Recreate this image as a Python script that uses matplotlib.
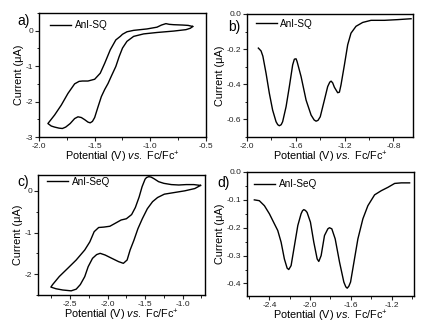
import matplotlib
matplotlib.use("Agg")
import matplotlib.pyplot as plt
from matplotlib.ticker import MultipleLocator, FuncFormatter

plt.rcParams['font.family'] = ['Liberation Sans', 'DejaVu Sans']
plt.rcParams['mathtext.fontset'] = 'custom'
plt.rcParams['mathtext.rm'] = 'Liberation Sans'
plt.rcParams['mathtext.it'] = 'Liberation Sans:italic'

# Panel a: CV of AnI-SQ (upper branch then lower branch, closed loop)
a_x = [-0.62, -0.66, -0.71, -0.79, -0.83, -0.86, -0.90, -0.94, -1.03, -1.15, -1.21, -1.25, -1.27,
       -1.31, -1.36, -1.41, -1.45, -1.50, -1.56, -1.61, -1.64, -1.68, -1.74, -1.80, -1.86, -1.92,
       -1.89, -1.86, -1.82, -1.79, -1.76, -1.72, -1.68, -1.65, -1.62, -1.59, -1.56, -1.54,
       -1.52, -1.50, -1.47, -1.44, -1.41, -1.38, -1.35, -1.31, -1.28, -1.25, -1.21, -1.15,
       -1.06, -0.94, -0.79, -0.68, -0.64, -0.62]
a_y = [0.12, 0.15, 0.16, 0.17, 0.18, 0.20, 0.16, 0.10, 0.05, 0.01, -0.03, -0.10, -0.16,
       -0.26, -0.54, -0.92, -1.20, -1.37, -1.42, -1.42, -1.43, -1.50, -1.77, -2.10, -2.38, -2.62,
       -2.69, -2.72, -2.75, -2.76, -2.72, -2.62, -2.48, -2.43, -2.45, -2.51, -2.58, -2.60,
       -2.56, -2.45, -2.15, -1.86, -1.66, -1.49, -1.28, -1.01, -0.73, -0.49, -0.30, -0.16,
       -0.09, -0.05, -0.01, 0.03, 0.07, 0.12]

# Panel b: DPV of AnI-SQ
b_x = [-1.907, -1.885, -1.87, -1.844, -1.817, -1.79, -1.762, -1.748, -1.735, -1.72, -1.708,
       -1.68, -1.653, -1.626, -1.612, -1.598, -1.59, -1.557, -1.516, -1.475, -1.45, -1.434,
       -1.418, -1.40, -1.366, -1.339, -1.322, -1.311, -1.298, -1.284, -1.257, -1.243, -1.23,
       -1.202, -1.175, -1.148, -1.107, -1.052, -0.984, -0.874, -0.765, -0.656]
b_y = [-0.194, -0.21, -0.24, -0.337, -0.451, -0.547, -0.613, -0.630, -0.636, -0.630, -0.613,
       -0.528, -0.413, -0.29, -0.257, -0.255, -0.27, -0.356, -0.49, -0.575, -0.603, -0.61,
       -0.605, -0.585, -0.49, -0.413, -0.388, -0.382, -0.392, -0.417, -0.448, -0.445, -0.404,
       -0.29, -0.175, -0.109, -0.07, -0.048, -0.036, -0.036, -0.032, -0.027]

# Panel c: CV of AnI-SeQ
c_x = [-0.76, -0.85, -0.95, -1.05, -1.15, -1.25, -1.32, -1.38, -1.42, -1.45, -1.48, -1.50,
       -1.54, -1.58, -1.63, -1.68, -1.75, -1.82, -1.90, -1.97, -2.05, -2.12, -2.18, -2.238,
       -2.306, -2.42, -2.532, -2.645, -2.735, -2.758,
       -2.69, -2.60, -2.487, -2.42, -2.365, -2.306, -2.26, -2.202, -2.147, -2.10, -2.034,
       -1.944, -1.853, -1.79, -1.74, -1.70, -1.65, -1.596, -1.537, -1.47, -1.40, -1.333,
       -1.243, -1.107, -0.97, -0.836, -0.76]
c_y = [0.13, 0.15, 0.15, 0.14, 0.15, 0.18, 0.22, 0.29, 0.33, 0.34, 0.32, 0.28,
       0.10, -0.15, -0.40, -0.57, -0.67, -0.70, -0.78, -0.85, -0.87, -0.88, -0.98, -1.225,
       -1.42, -1.66, -1.858, -2.055, -2.25, -2.31,
       -2.35, -2.38, -2.40, -2.36, -2.25, -2.06, -1.82, -1.62, -1.53, -1.50, -1.54,
       -1.62, -1.70, -1.74, -1.66, -1.42, -1.19, -0.91, -0.67, -0.43, -0.26, -0.16,
       -0.08, -0.04, 0.0, 0.055, 0.13]

# Panel d: DPV of AnI-SeQ
d_x = [-2.548, -2.499, -2.449, -2.40, -2.351, -2.318, -2.285, -2.253, -2.226, -2.21, -2.187,
       -2.154, -2.121, -2.089, -2.075, -2.062, -2.046, -2.03, -1.997, -1.964, -1.931, -1.915,
       -1.892, -1.859, -1.826, -1.81, -1.787, -1.754, -1.711, -1.669, -1.650, -1.636, -1.620,
       -1.603, -1.57, -1.531, -1.482, -1.433, -1.367, -1.301, -1.236, -1.17, -1.105, -1.023]
d_y = [-0.10, -0.103, -0.121, -0.15, -0.186, -0.21, -0.252, -0.312, -0.345, -0.35, -0.336,
       -0.264, -0.192, -0.15, -0.139, -0.135, -0.138, -0.145, -0.18, -0.252, -0.312, -0.321,
       -0.30, -0.228, -0.204, -0.20, -0.204, -0.24, -0.324, -0.395, -0.412, -0.417, -0.410,
       -0.395, -0.324, -0.24, -0.168, -0.121, -0.082, -0.067, -0.055, -0.041, -0.039, -0.039]

W, H = 422, 324
fig = plt.figure(figsize=(W / 100, H / 100), dpi=100)

def box(l, t, r, b):
    return [l / W, 1 - b / H, (r - l) / W, (b - t) / H]

xlabel = r'Potential (V) $\it{vs.}$ Fc/Fc$^{+}$'
ylabel = 'Current (\u03bcA)'

panels = [
    dict(pos=box(39, 13, 206, 137), x=a_x, y=a_y, xlim=(-2.0, -0.5), ylim=(-3.0, 0.5),
         xmaj=0.5, xmin=0.25, ymaj=1.0, ymin=0.5, yfmt='{:.0f}', xfmt='{:.1f}',
         leg='AnI-SQ', legpos=(0.066, 0.903), tag='a)', tagpos=(24, 21)),
    dict(pos=box(247, 14, 413, 137), x=b_x, y=b_y, xlim=(-2.0, -0.64), ylim=(-0.7, 0.0),
         xmaj=0.4, xmin=0.2, ymaj=0.2, ymin=0.1, yfmt='{:.1f}', xfmt='{:.1f}',
         leg='AnI-SQ', legpos=(0.054, 0.919), tag='b)', tagpos=(234, 27)),
    dict(pos=box(38, 175, 205, 295), x=c_x, y=c_y, xlim=(-2.93, -0.70), ylim=(-2.5, 0.38),
         xmaj=0.5, xmin=0.25, ymaj=1.0, ymin=0.5, yfmt='{:.0f}', xfmt='{:.1f}',
         leg='AnI-SeQ', legpos=(0.054, 0.945), tag='c)', tagpos=(23, 182)),
    dict(pos=box(247, 172, 414, 296), x=d_x, y=d_y, xlim=(-2.62, -0.98), ylim=(-0.445, 0.0),
         xmaj=0.4, xmin=0.2, ymaj=0.1, ymin=0.05, yfmt='{:.1f}', xfmt='{:.1f}',
         leg='AnI-SeQ', legpos=(0.042, 0.903), tag='d)', tagpos=(224, 183)),
]

for p in panels:
    ax = fig.add_axes(p['pos'])
    ax.plot(p['x'], p['y'], color='black', lw=1.0, label=p['leg'])
    ax.set_xlim(*p['xlim'])
    ax.set_ylim(*p['ylim'])
    ax.xaxis.set_major_locator(MultipleLocator(p['xmaj']))
    ax.xaxis.set_minor_locator(MultipleLocator(p['xmin']))
    ax.yaxis.set_major_locator(MultipleLocator(p['ymaj']))
    ax.yaxis.set_minor_locator(MultipleLocator(p['ymin']))
    xf, yf = p['xfmt'], p['yfmt']
    ax.xaxis.set_major_formatter(FuncFormatter(lambda v, pos, f=xf: f.format(0.0) if abs(v) < 1e-9 else f.format(v)))
    ax.yaxis.set_major_formatter(FuncFormatter(lambda v, pos, f=yf: f.format(0.0) if abs(v) < 1e-9 else f.format(v)))
    ax.tick_params(which='major', direction='out', length=3, width=0.8, labelsize=6,
                   pad=1.2, colors='#222222')
    ax.tick_params(which='minor', direction='out', length=1.8, width=0.6)
    for s in ax.spines.values():
        s.set_linewidth(1.0)
    ax.set_xlabel(xlabel, fontsize=7.8, labelpad=0)
    ax.set_ylabel(ylabel, fontsize=7.8, labelpad=1)
    ax.legend(loc='center left', bbox_to_anchor=p['legpos'], frameon=False, fontsize=7.2,
              handlelength=2.1, handletextpad=0.35, borderpad=0, borderaxespad=0)
    fig.text(p['tagpos'][0] / W, 1 - p['tagpos'][1] / H, p['tag'], fontsize=10,
             ha='center', va='center')

fig.savefig('out.png', dpi=100)
